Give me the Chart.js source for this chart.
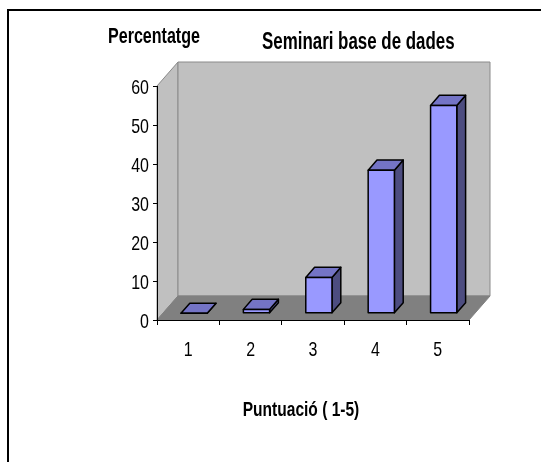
<!DOCTYPE html>
<html>
<head>
<meta charset="utf-8">
<script src="https://cdn.jsdelivr.net/npm/chart.js@4"></script>
<style>
  html, body { margin: 0; padding: 0; background: #fff; }
</style>
</head>
<body>
<canvas id="chart" width="541" height="462"></canvas>
<script>
// Chart data
const categories = ['1', '2', '3', '4', '5'];
const percentages = [0, 1, 9.2, 36.7, 53.3];
const yTickValues = [0, 10, 20, 30, 40, 50, 60];

const chartTitle = 'Seminari base de dades';
const yAxisTitle = 'Percentatge';
const xAxisTitle = 'Puntuació ( 1-5)';

// 3D look (oblique projection like the old Excel charts)
const DEPTH_X = 21;
const DEPTH_Y = 24;
const BAR_FRONT = 0.28;   // bar front face, as fraction of the floor depth
const BAR_BACK = 0.70;

function poly(ctx, pts, fill, stroke, lw) {
    ctx.beginPath();
    ctx.moveTo(pts[0][0], pts[0][1]);
    for (let i = 1; i < pts.length; i++) ctx.lineTo(pts[i][0], pts[i][1]);
    ctx.closePath();
    if (fill) { ctx.fillStyle = fill; ctx.fill(); }
    if (stroke) { ctx.strokeStyle = stroke; ctx.lineWidth = lw || 1; ctx.stroke(); }
}

// squeezed text, the original fonts are rendered tall and narrow
function squeezeText(ctx, text, x, y, font, sx, align) {
    ctx.save();
    ctx.font = font;
    ctx.fillStyle = '#000';
    ctx.textAlign = align;
    ctx.textBaseline = 'alphabetic';
    ctx.translate(x, y);
    ctx.scale(sx, 1);
    ctx.fillText(text, 0, 0);
    ctx.restore();
}

const boldFont = size => 'bold ' + size + "px 'Liberation Sans', Arial, sans-serif";
const tickFont = "21px 'Liberation Sans', Arial, sans-serif";

const excel3d = {
    id: 'excel3d',
    beforeDraw(chart) {
        const { ctx, chartArea: a } = chart;
        ctx.save();
        ctx.fillStyle = '#fff';
        ctx.fillRect(0, 0, chart.width, chart.height);

        // outer frame
        ctx.strokeStyle = '#000';
        ctx.lineWidth = 2;
        ctx.beginPath();
        ctx.moveTo(8, chart.height);
        ctx.lineTo(8, 10);
        ctx.lineTo(chart.width, 10);
        ctx.stroke();

        const dx = DEPTH_X, dy = DEPTH_Y;
        // left wall, back wall, floor
        poly(ctx, [[a.left, a.top], [a.left + dx, a.top - dy], [a.left + dx, a.bottom - dy], [a.left, a.bottom]], '#c0c0c0', '#8a8a8a');
        poly(ctx, [[a.left + dx, a.top - dy], [a.right + dx, a.top - dy], [a.right + dx, a.bottom - dy], [a.left + dx, a.bottom - dy]], '#c0c0c0', '#8a8a8a');
        poly(ctx, [[a.left, a.bottom], [a.right, a.bottom], [a.right + dx, a.bottom - dy], [a.left + dx, a.bottom - dy]], '#808080', '#808080');
        ctx.restore();
    },
    afterDatasetsDraw(chart) {
        const ctx = chart.ctx;
        const meta = chart.getDatasetMeta(0);
        const fx = DEPTH_X * BAR_FRONT, fy = DEPTH_Y * BAR_FRONT;
        const bx = DEPTH_X * (BAR_BACK - BAR_FRONT), by = DEPTH_Y * (BAR_BACK - BAR_FRONT);
        ctx.save();
        ctx.lineJoin = 'round';
        meta.data.forEach(el => {
            const { x, y, base, width } = el.getProps(['x', 'y', 'base', 'width'], true);
            const l = x - width / 2 + fx, r = x + width / 2 + fx;
            const t = y - fy, b = base - fy;
            poly(ctx, [[r, t], [r + bx, t - by], [r + bx, b - by], [r, b]], '#4d4d80', '#000', 1.5);
            poly(ctx, [[l, t], [l + bx, t - by], [r + bx, t - by], [r, t]], '#7474c6', '#000', 1.5);
            poly(ctx, [[l, t], [r, t], [r, b], [l, b]], '#9999ff', '#000', 1.5);
        });
        ctx.restore();
    },
    afterDraw(chart) {
        const ctx = chart.ctx;
        const xs = chart.scales.x, ys = chart.scales.y;

        // tick labels, positioned by the scales
        ys.ticks.forEach(t => {
            squeezeText(ctx, String(t.value), xs.left - 8, ys.getPixelForValue(t.value) + 7.5, tickFont, 0.76, 'right');
        });
        chart.data.labels.forEach((lab, i) => {
            squeezeText(ctx, lab, xs.getPixelForValue(i), ys.bottom + 36, tickFont, 0.76, 'center');
        });

        squeezeText(ctx, yAxisTitle, 108, 43, boldFont(22), 0.73, 'left');
        squeezeText(ctx, chartTitle, 262, 49, boldFont(23), 0.735, 'left');
        squeezeText(ctx, xAxisTitle, 301, 416, boldFont(21), 0.74, 'center');
    }
};

new Chart(document.getElementById('chart'), {
    type: 'bar',
    data: {
        labels: categories,
        datasets: [{
            label: 'Percentatge',
            data: percentages,
            backgroundColor: 'rgba(0,0,0,0)',
            borderWidth: 0,
            categoryPercentage: 1.0,
            barPercentage: 0.42
        }]
    },
    options: {
        responsive: false,
        animation: false,
        layout: { padding: { left: 0, top: 86, right: 72, bottom: 0 } },
        plugins: {
            legend: { display: false },
            title: { display: false },
            tooltip: { enabled: false }
        },
        scales: {
            x: {
                grid: { drawOnChartArea: false, offset: true, tickLength: 5, tickColor: '#000', tickWidth: 1 },
                border: { color: '#000', width: 1 },
                ticks: { display: false },
                afterFit(scale) { scale.height = 142; }
            },
            y: {
                min: 0,
                max: 60,
                afterBuildTicks(scale) {
                    scale.ticks = yTickValues.map(v => ({ value: v }));
                },
                grid: { drawOnChartArea: false, tickLength: 4, tickColor: '#000', tickWidth: 1 },
                border: { color: '#000', width: 1 },
                ticks: { display: false },
                afterFit(scale) { scale.width = 157; }
            }
        }
    },
    plugins: [excel3d]
});
</script>
</body>
</html>
